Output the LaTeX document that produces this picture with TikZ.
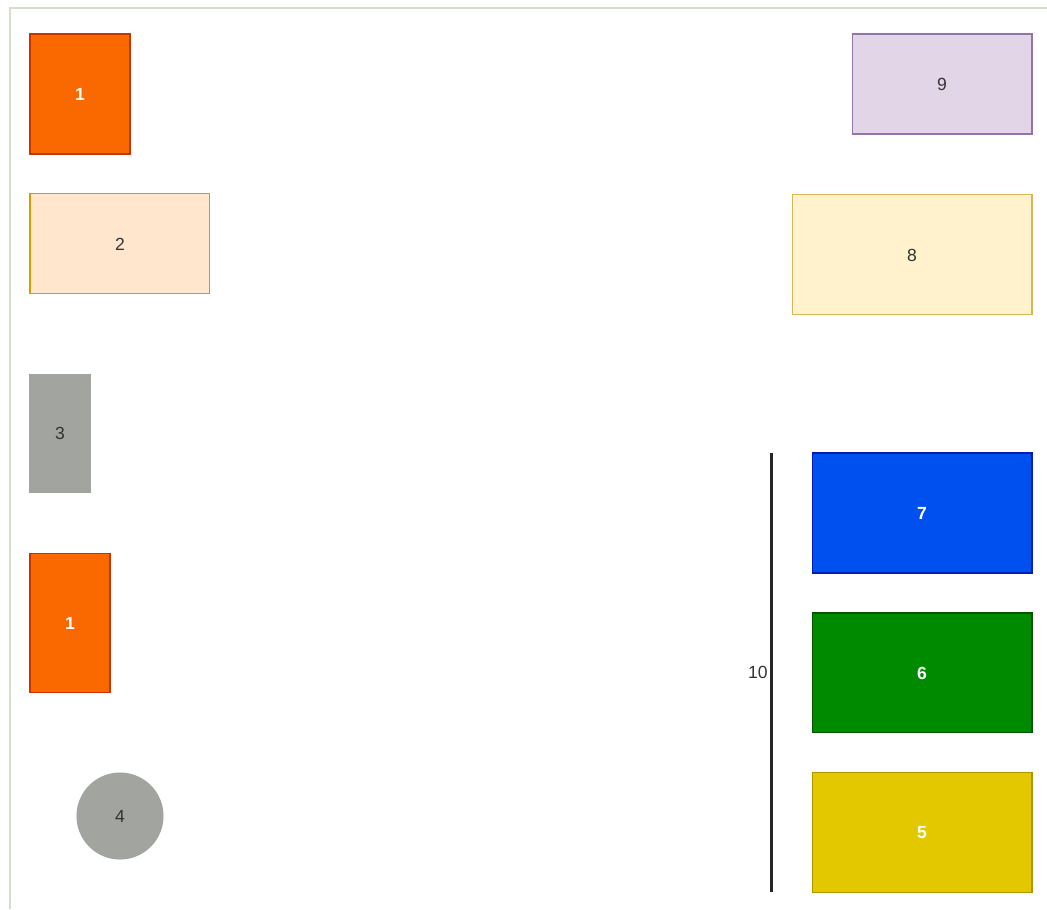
\documentclass[tikz,border=0pt]{standalone}
\usepackage{fontspec}
\setmainfont{Liberation Sans}
\usetikzlibrary{positioning}
\definecolor{framegreen}{HTML}{D3DFCB}
\definecolor{orangefill}{HTML}{FA6800}
\definecolor{orangeline}{HTML}{C73500}
\definecolor{peachfill}{HTML}{FFE6CC}
\definecolor{peachline}{HTML}{D79B00}
\definecolor{greyfill}{HTML}{A2A49F}
\definecolor{lilacfill}{HTML}{E1D5E7}
\definecolor{lilacline}{HTML}{9673A6}
\definecolor{creamfill}{HTML}{FFF2CC}
\definecolor{creamline}{HTML}{D6B656}
\definecolor{bluefill}{HTML}{0050EF}
\definecolor{blueline}{HTML}{001DBC}
\definecolor{greenfill}{HTML}{008A00}
\definecolor{greenline}{HTML}{005700}
\definecolor{yellowfill}{HTML}{E3C800}
\definecolor{yellowline}{HTML}{B09500}
\definecolor{labelgrey}{HTML}{333333}

\begin{document}
\begin{tikzpicture}[x=0.02cm, y=-0.02cm,
  block/.style={draw, line width=0.6pt, inner sep=0pt, outer sep=0pt, align=center, text=labelgrey, font=\fontsize{10}{12}\selectfont},
  boldblock/.style={block, text=white, font=\fontsize{10}{12}\selectfont\bfseries},
  bar/.style={line width=1.7pt, black!85},
  frameline/.style={line width=1.2pt, framegreen}
]
  \useasboundingbox (0,0) rectangle (1047,909);
  \draw[frameline] (10,909) -- (10,8) -- (1047,8);

  % left column
  \node[boldblock, fill=orangefill, draw=orangeline, minimum width=2cm, minimum height=2.4cm, anchor=north west] (one) at (30,34) {1};
  \node[block, fill=peachfill, draw=peachline, minimum width=3.6cm, minimum height=2cm, below=0.8cm of one.south west, anchor=north west] (two) {2};
  \node[block, fill=greyfill, draw=greyfill, minimum width=1.2cm, minimum height=2.36cm, below=1.62cm of two.south west, anchor=north west] (three) {3};
  \node[boldblock, fill=orangefill, draw=orangeline, minimum width=1.6cm, minimum height=2.78cm, below=1.22cm of three.south west, anchor=north west] (oneb) {1};
  \node[block, circle, fill=greyfill, draw=greyfill, minimum size=1.72cm] (four) at (120,816) {4};

  % right column
  \node[block, fill=lilacfill, draw=lilacline, minimum width=3.6cm, minimum height=2cm, anchor=north east] (nine) at (1032,34) {9};
  \node[block, fill=creamfill, draw=creamline, minimum width=4.8cm, minimum height=2.4cm, below=1.22cm of nine.south east, anchor=north east] (eight) {8};
  \node[boldblock, fill=bluefill, draw=blueline, minimum width=4.4cm, minimum height=2.4cm, anchor=north east] (seven) at (1032,453) {7};
  \node[boldblock, fill=greenfill, draw=greenline, minimum width=4.4cm, minimum height=2.4cm, below=0.8cm of seven] (six) {6};
  \node[boldblock, fill=yellowfill, draw=yellowline, minimum width=4.4cm, minimum height=2.4cm, below=0.8cm of six] (five) {5};

  \coordinate (bartop) at (771,453);
  \coordinate (barbot) at (771,892);
  \draw[bar] (bartop) -- (barbot) node[midway, left=0pt, inner sep=1pt, text=labelgrey, font=\fontsize{10}{12}\selectfont] (ten) {10};
\end{tikzpicture}
\end{document}
